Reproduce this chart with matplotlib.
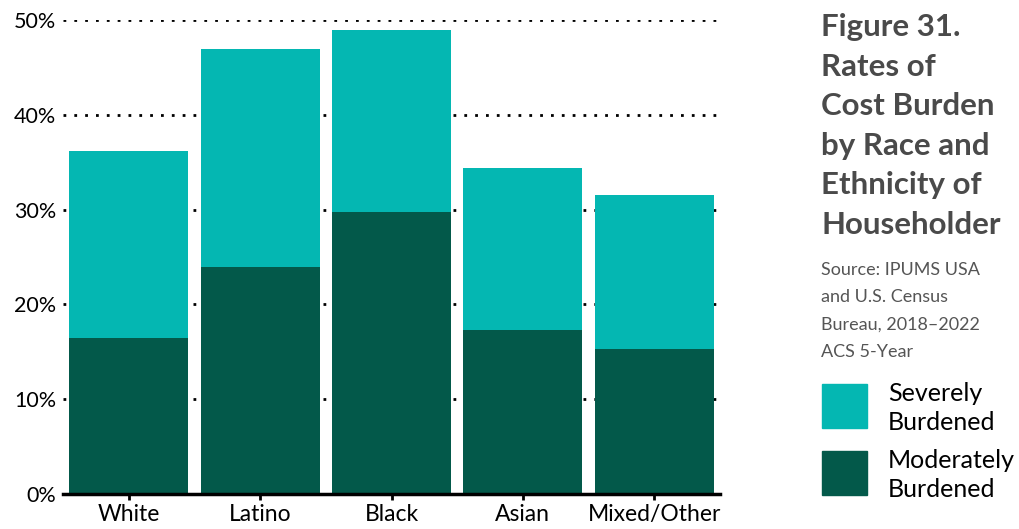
import matplotlib.pyplot as plt
import numpy as np

# cost burden by race / ethnicity of householder (percent of households)
groups = ["White", "Latino", "Black", "Asian", "Mixed/Other"]
moderately = [16.5, 23.9, 29.7, 17.3, 15.3]
severely = [19.7, 23.0, 19.2, 17.1, 16.2]
yticks = [0, 10, 20, 30, 40, 50]

teal = "#04b7b2"
dark = "#03594a"

plt.rcParams["font.family"] = ["Lato", "DejaVu Sans"]

fig = plt.figure(figsize=(10.19, 5.29), dpi=100)
ax = fig.add_axes([63 / 1019, 1 - 494 / 529, 657 / 1019, 474 / 529])

x = np.arange(len(groups))
ax.bar(x, moderately, width=0.905, color=dark, zorder=2)
ax.bar(x, severely, width=0.905, bottom=moderately, color=teal, zorder=2)

ax.set_xlim(-0.5, 4.5)
ax.set_ylim(0, 50)
ax.set_yticks(yticks)
ax.set_yticklabels([f"{v}%" for v in yticks], fontsize=15.5)
ax.set_xticks(x)
ax.set_xticklabels(groups, fontsize=16.5)
ax.tick_params(axis="y", length=0, pad=5)
ax.tick_params(axis="x", length=4, width=2, pad=3)

for v in yticks[1:]:
    ax.axhline(v, color="black", lw=2, ls=(0, (1, 2.9)), zorder=1)

for s in ["top", "right", "left"]:
    ax.spines[s].set_visible(False)
ax.spines["bottom"].set_linewidth(2.5)
ax.spines["bottom"].set_zorder(3)

# title block and legend on the right
fig.text(821 / 1019, 1 - 13 / 529,
         "Figure 31.\nRates of\nCost Burden\nby Race and\nEthnicity of\nHouseholder",
         fontsize=22.5, fontweight="bold", color="#4a4a4a",
         va="top", ha="left", linespacing=1.5)
fig.text(821 / 1019, 1 - 262 / 529,
         "Source: IPUMS USA\nand U.S. Census\nBureau, 2018\u20132022\nACS 5-Year",
         fontsize=13, color="#555555", va="top", ha="left", linespacing=1.86)

for y0, col, label in [(384, teal, "Severely\nBurdened"),
                        (451, dark, "Moderately\nBurdened")]:
    fig.patches.append(plt.Rectangle((822 / 1019, 1 - (y0 + 44) / 529),
                                     45 / 1019, 44 / 529,
                                     transform=fig.transFigure, color=col))
    fig.text(888 / 1019, 1 - (y0 + 24) / 529, label, fontsize=18,
             color="black", va="center", ha="left", linespacing=1.3)

fig.savefig("out.png", dpi=100)
